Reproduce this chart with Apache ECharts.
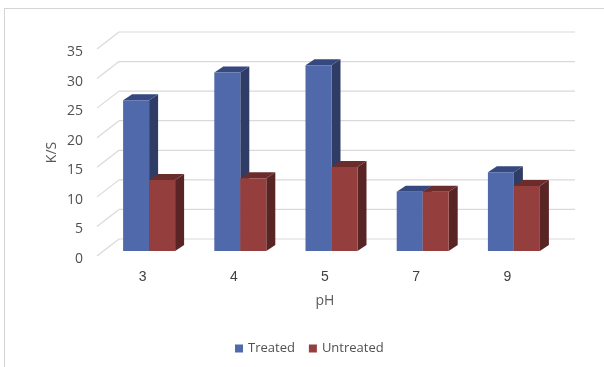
<!DOCTYPE html>
<html>
<head>
<meta charset="utf-8">
<style>
html, body { margin: 0; padding: 0; background: #fff; }
#frame { position: absolute; left: 4px; top: 8px; width: 600px; height: 359px; border-left: 1px solid #d4d4d4; border-top: 1px solid #d4d4d4; box-sizing: border-box; }
#chart { position: absolute; left: 0; top: 0; width: 604px; height: 367px; }
</style>
<script src="https://cdn.jsdelivr.net/npm/echarts@6/dist/echarts.min.js"></script>
</head>
<body>
<div id="frame"></div>
<div id="chart"></div>
<script>
var categories = ['3', '4', '5', '7', '9'];
var treated = [25.5, 30.2, 31.4, 10, 13.3];
var untreated = [12, 12.3, 14.2, 10, 11];
var yTicks = [0, 5, 10, 15, 20, 25, 30, 35];

// fake 3d: how far the back wall sits behind the axis plane
var wallDx = 22, wallDy = -17;
var barDx = 6.5, barDy = -5;
var depthDx = 9, depthDy = -6;
var barWidth = 26;

function poly(points, color) {
  return { type: 'polygon', shape: { points: points }, style: { fill: color } };
}

function bar3d(side, front, sideColor, topColor) {
  return function (params, api) {
    var base = api.coord([api.value(0), 0]);
    var top = api.coord([api.value(0), api.value(1)]);
    var x0 = base[0] + barDx + side * barWidth;
    var x1 = x0 + barWidth;
    var y0 = base[1] + barDy;
    var y1 = top[1] + barDy;
    return {
      type: 'group',
      children: [
        poly([[x1, y0], [x1 + depthDx, y0 + depthDy], [x1 + depthDx, y1 + depthDy], [x1, y1]], sideColor),
        poly([[x0, y1], [x0 + depthDx, y1 + depthDy], [x1 + depthDx, y1 + depthDy], [x1, y1]], topColor),
        poly([[x0, y0], [x1, y0], [x1, y1], [x0, y1]], front)
      ]
    };
  };
}

function wall(params, api) {
  var cs = params.coordSys;
  var p = api.coord([0, api.value(0)]);
  var style = { stroke: '#d9d9d9', lineWidth: 1.2 };
  return {
    type: 'group',
    children: [
      { type: 'line', shape: { x1: cs.x, y1: p[1], x2: cs.x + wallDx, y2: p[1] + wallDy }, style: style },
      { type: 'line', shape: { x1: cs.x + wallDx, y1: p[1] + wallDy, x2: cs.x + cs.width + wallDx, y2: p[1] + wallDy }, style: style }
    ]
  };
}

var chart = echarts.init(document.getElementById('chart'));
chart.setOption({
  backgroundColor: 'transparent',
  animation: false,
  textStyle: { fontFamily: 'Open Sans' },
  grid: { left: 97, right: 51, top: 49, bottom: 111 },
  xAxis: {
    type: 'category',
    data: categories,
    name: 'pH',
    nameLocation: 'middle',
    nameGap: 38,
    nameMoveOverlap: false,
    nameTextStyle: { color: '#595959', fontSize: 14, fontFamily: 'Open Sans' },
    axisLine: { show: false },
    axisTick: { show: false },
    axisLabel: { color: '#404040', fontSize: 14, margin: 14, fontFamily: 'Liberation Sans' }
  },
  yAxis: {
    type: 'value',
    min: 0,
    max: 35,
    interval: 5,
    name: 'K/S',
    nameLocation: 'middle',
    nameGap: 38,
    nameMoveOverlap: false,
    nameTextStyle: { color: '#595959', fontSize: 14 },
    splitLine: { show: false },
    axisLine: { show: false },
    axisTick: { show: false },
    axisLabel: { color: '#505050', fontSize: 14, margin: 14, verticalAlign: 'top', padding: [-4, 0, 0, 0] }
  },
  legend: {
    data: ['Treated', 'Untreated'],
    bottom: 7,
    left: 230,
    icon: 'rect',
    itemWidth: 8,
    itemHeight: 8,
    itemGap: 14,
    textStyle: { color: '#505050', fontSize: 13 }
  },
  series: [
    {
      type: 'custom',
      name: 'wall',
      silent: true,
      renderItem: wall,
      data: yTicks.map(function (t) { return [t]; }),
      encode: { y: 0 },
      z: 1
    },
    {
      type: 'custom',
      name: 'Treated',
      renderItem: bar3d(-1, '#5069ab', '#2f3d66', '#35487f'),
      itemStyle: { color: '#5069ab' },
      data: treated.map(function (v, i) { return [i, v]; }),
      encode: { x: 0, y: 1 },
      z: 2
    },
    {
      type: 'custom',
      name: 'Untreated',
      renderItem: bar3d(0, '#943f3e', '#582524', '#6b2d2c'),
      itemStyle: { color: '#943f3e' },
      data: untreated.map(function (v, i) { return [i, v]; }),
      encode: { x: 0, y: 1 },
      z: 3
    }
  ]
});
</script>
</body>
</html>
